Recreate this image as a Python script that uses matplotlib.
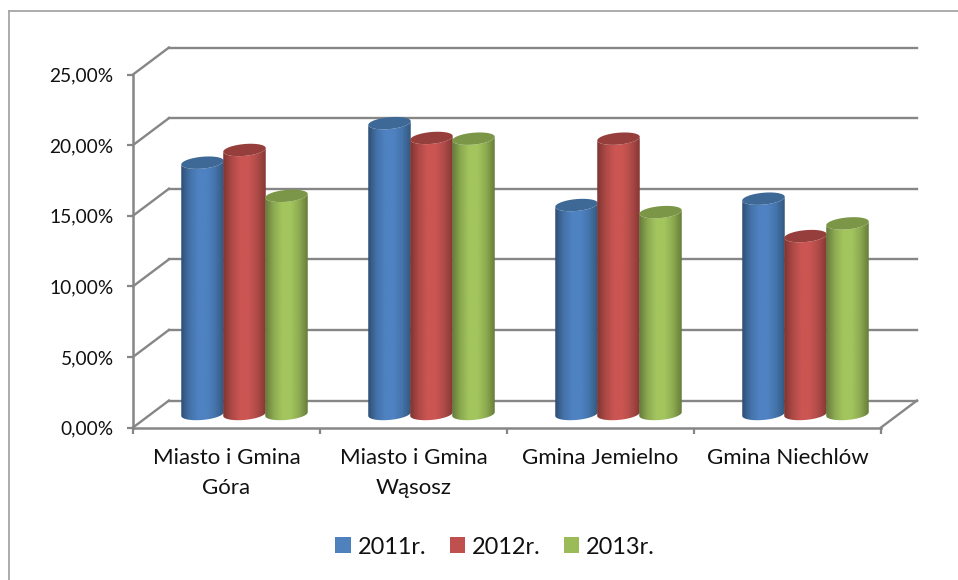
import numpy as np
import matplotlib
matplotlib.use("Agg")
import matplotlib.pyplot as plt
from matplotlib.colors import LinearSegmentedColormap
from matplotlib.lines import Line2D
from matplotlib.patches import Patch, Polygon

plt.rcParams["font.family"] = ["Lato", "DejaVu Sans"]

categories = ["Miasto i Gmina\nGóra", "Miasto i Gmina\nWąsosz", "Gmina Jemielno", "Gmina Niechlów"]
series_names = ["2011r.", "2012r.", "2013r."]
values_2011 = [17.8, 20.6, 14.8, 15.25]
values_2012 = [18.7, 19.55, 19.5, 12.6]
values_2013 = [15.45, 19.5, 14.3, 13.5]
y_ticks = [0, 5, 10, 15, 20, 25]

legend_colors = ["#4F81BD", "#C0504D", "#9BBB59"]
top_colors = ["#3E6896", "#963E3B", "#7B9646"]
side_colors = [
    ["#2F4E74", "#4472A8", "#4F82C2", "#4F82C2", "#4474AB", "#34587F"],
    ["#7E3431", "#AD4946", "#CB5552", "#CB5552", "#AF4B48", "#853734"],
    ["#64793A", "#8CAA51", "#A3C55E", "#A3C55E", "#8DAB51", "#667C3A"],
]

GRID = "#868686"
DEPTH_X = 36 / 187  # shift of the back wall, in category units
DEPTH_Y = 27 / 14.12  # same, in percent
BAR_W = 42.5 / 187
ELL_A = 0.42
ELL_TILT = 0.13

W, H = 958, 580
fig = plt.figure(figsize=(W / 100, H / 100), dpi=100)
ax = fig.add_axes([133 / W, 1 - 427.5 / H, 748 / W, 353 / H])

# chart area border, only left and top are in the frame
fig.add_artist(Line2D([9 / W, 9 / W], [0, 1 - 11 / H], color="#A6A6A6", lw=1.3))
fig.add_artist(Line2D([9 / W, 1], [1 - 11 / H, 1 - 11 / H], color="#A6A6A6", lw=1.3))

# walls
for v in y_ticks:
    ax.plot([0, DEPTH_X], [v, v + DEPTH_Y], color=GRID, lw=1.7, clip_on=False, zorder=1)
    ax.plot([DEPTH_X, 4 + DEPTH_X], [v + DEPTH_Y, v + DEPTH_Y], color=GRID, lw=1.7, clip_on=False, zorder=1)
ax.plot([4, 4 + DEPTH_X], [0, DEPTH_Y], color=GRID, lw=1.7, clip_on=False, zorder=1)


def draw_cylinder(cx, value, s, z):
    base = DEPTH_Y / 2
    top = base + value
    t = np.linspace(np.pi, 2 * np.pi, 60)
    ex = cx + BAR_W / 2 * np.cos(t)
    ey = ELL_A * np.sin(t) + ELL_TILT * np.cos(t)
    body = np.vstack([
        np.column_stack([ex, base + ey]),
        np.column_stack([ex[::-1], top + ey[::-1]]),
    ])
    cmap = LinearSegmentedColormap.from_list("side", side_colors[s])
    clip = Polygon(body, closed=True, transform=ax.transData, fc="none", ec="none")
    ax.add_patch(clip)
    im = ax.imshow(
        np.linspace(0, 1, 128).reshape(1, -1),
        extent=(cx - BAR_W / 2, cx + BAR_W / 2, base - 1, top + 1),
        cmap=cmap, aspect="auto", zorder=z, interpolation="bilinear",
    )
    im.set_clip_path(clip)
    t = np.linspace(0, 2 * np.pi, 90)
    cap_x = cx + BAR_W / 2 * np.cos(t)
    cap_y = top + ELL_A * np.sin(t) + ELL_TILT * np.cos(t)
    ax.fill(cap_x, cap_y, color=top_colors[s], lw=0, zorder=z + 0.05)


all_values = [values_2011, values_2012, values_2013]
for i in range(len(categories)):
    for s, vals in enumerate(all_values):
        cx = i + 0.5 + DEPTH_X / 2 + (s - 1) * 42 / 187
        draw_cylinder(cx, vals[i], s, 2 + i + s * 0.1)

ax.set_xlim(0, 4)
ax.set_ylim(0, 25)
ax.patch.set_visible(False)

for side in ["top", "right"]:
    ax.spines[side].set_visible(False)
for side in ["left", "bottom"]:
    ax.spines[side].set_color(GRID)
    ax.spines[side].set_linewidth(1.8)

ax.set_yticks(y_ticks)
ax.set_yticklabels([f"{v:.2f}%".replace(".", ",") for v in y_ticks])
ax.tick_params(axis="y", length=4.5, width=1.6, color=GRID, labelsize=13.8, pad=9.5, labelcolor="#111111")

ax.set_xticks(range(5))
ax.set_xticklabels([])
ax.set_xticks(np.arange(len(categories)) + 0.5, minor=True)
ax.set_xticklabels(categories, minor=True, linespacing=1.58)
ax.tick_params(axis="x", which="minor", length=0, labelsize=16, pad=15, labelcolor="#111111")
ax.tick_params(axis="x", which="major", length=4.5, width=1.6, color=GRID)

handles = [Patch(facecolor=c, edgecolor="none") for c in legend_colors]
fig.legend(
    handles, series_names, ncols=3, frameon=False, fontsize=16.9,
    loc="center", bbox_to_anchor=(495 / W, 1 - 547 / H),
    handlelength=0.64, handleheight=0.64, handletextpad=0.3, columnspacing=1.0,
    labelcolor="#111111",
)

fig.savefig("out.png", dpi=100)
